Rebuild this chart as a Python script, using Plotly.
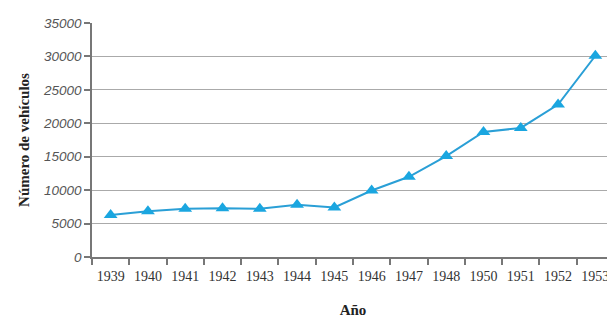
import plotly.graph_objects as go

years = ["1939", "1940", "1941", "1942", "1943", "1944", "1945", "1946",
         "1947", "1948", "1950", "1951", "1952", "1953"]
vehicles = [6300, 6850, 7200, 7300, 7200, 7800, 7400, 9950,
            12000, 15100, 18700, 19300, 22800, 30100]
y_ticks = [0, 5000, 10000, 15000, 20000, 25000, 30000, 35000]

fig = go.Figure()
fig.add_trace(go.Scatter(
    x=years, y=vehicles, mode="lines+markers",
    line=dict(color="#2a9fd6", width=2),
    marker=dict(symbol="triangle-up", size=12, color="#1aa6e0"),
    showlegend=False,
))

# page body has an 8px default margin, so the figure is sized/offset to compensate
fig.update_layout(
    width=607, height=312,
    margin=dict(l=84, r=1, t=15, b=63),
    paper_bgcolor="white", plot_bgcolor="white",
    xaxis=dict(
        type="category",
        range=[-0.5, len(years) - 0.5],
        automargin=False,
        tickangle=0,
        tickson="boundaries",
        ticks="outside", ticklen=6, tickcolor="#777", tickwidth=1.5,
        showline=True, linecolor="#777", linewidth=1.5,
        showgrid=False,
        ticklabelstandoff=5,
        tickfont=dict(family="Liberation Serif", size=14, color="#333"),
        title=dict(text="<b>Año</b>", font=dict(family="Liberation Serif", size=15, color="#222"), standoff=22),
    ),
    yaxis=dict(
        automargin=False,
        range=[0, 35000],
        tickvals=y_ticks,
        ticktext=[str(v) for v in y_ticks],
        ticks="outside", ticklen=6, tickcolor="#777", tickwidth=1.5,
        showline=True, linecolor="#777", linewidth=1.5, mirror=True,
        showgrid=True, gridcolor="#aaa", gridwidth=1.3,
        zeroline=False,
        tickfont=dict(family="Liberation Sans", size=13.5, color="#555", style="italic"),
        title=dict(text="<b>Número de vehículos</b>", font=dict(family="Liberation Serif", size=15, color="#222"), standoff=10),
    ),
)

fig.write_html("out.html")
